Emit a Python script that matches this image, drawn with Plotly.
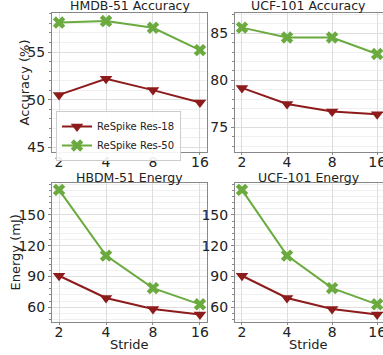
import plotly.graph_objects as go
import math

strides = [2, 4, 8, 16]
hmdb_acc_r18 = [50.5, 52.2, 51.0, 49.7]
hmdb_acc_r50 = [58.1, 58.25, 57.55, 55.2]
ucf_acc_r18 = [79.2, 77.5, 76.7, 76.4]
ucf_acc_r50 = [85.6, 84.55, 84.55, 82.8]
hmdb_energy_r18 = [90.7, 69.1, 58.3, 53.1]
hmdb_energy_r50 = [174.3, 110.3, 78.7, 62.9]
ucf_energy_r18 = [90.7, 69.1, 58.3, 53.1]
ucf_energy_r50 = [174.3, 110.3, 78.7, 62.9]
titles = ["HMDB-51 Accuracy", "UCF-101 Accuracy", "HBDM-51 Energy", "UCF-101 Energy"]
names = ["ReSpike Res-18", "ReSpike Res-50"]

RED = "#8E1B1B"
GREEN = "#6AAA3F"
W, H = 383, 355

def px2paper_x(px):
    return min(1.0, px / W)

def px2paper_y(py):
    return 1 - py / H

xdom = [[px2paper_x(52), px2paper_x(207)], [px2paper_x(235), px2paper_x(383)]]
ydom = [[px2paper_y(152), px2paper_y(13)], [px2paper_y(322), px2paper_y(183)]]
title_y = [6, 177]

fig = go.Figure()

panels = [
    (hmdb_acc_r18, hmdb_acc_r50, 0, 0),
    (ucf_acc_r18, ucf_acc_r50, 1, 0),
    (hmdb_energy_r18, hmdb_energy_r50, 0, 1),
    (ucf_energy_r18, ucf_energy_r50, 1, 1),
]
yranges = [[44.5, 59.1], [72.4, 87.15], [45.7, 181], [45.7, 181]]
ytickvals = [[45, 50, 55], [75, 80, 85], [60, 90, 120, 150], [60, 90, 120, 150]]
minor_dt = [1, 1, 6, 6]

l2 = math.log10(2)
xranges = [[l2 - 0.15 * l2, 4 * l2 + 0.15 * l2], [l2 - 0.155 * l2, 4 * l2 + 0.13 * l2]]

for i, (r18, r50, col, row) in enumerate(panels):
    ax = "" if i == 0 else str(i + 1)
    fig.add_trace(go.Scatter(x=strides, y=r18, mode="lines+markers", name=names[0],
                             line=dict(color=RED, width=2),
                             marker=dict(symbol="triangle-down", size=11, color=RED),
                             xaxis="x" + ax, yaxis="y" + ax, showlegend=(i == 0)))
    fig.add_trace(go.Scatter(x=strides, y=r50, mode="lines+markers", name=names[1],
                             line=dict(color=GREEN, width=2),
                             marker=dict(symbol="x", size=11, color=GREEN),
                             xaxis="x" + ax, yaxis="y" + ax, showlegend=(i == 0)))
    common = dict(showline=True, linecolor="#888888", linewidth=1, mirror=True,
                  gridcolor="#dddddd", gridwidth=1, zeroline=False, automargin=False,
                  ticklabeloverflow="allow",
                  tickfont=dict(family="DejaVu Sans", size=14, color="#222222"),
                  ticks="outside", tickcolor="#888888")
    fig.layout["xaxis" + ax] = dict(domain=xdom[col], anchor="y" + ax, type="log",
                                    range=xranges[col], tickvals=strides, ticklen=2,
                                    ticklabelstandoff=-5,
                                    ticktext=[str(s) for s in strides], **common)
    fig.layout["yaxis" + ax] = dict(domain=ydom[row], anchor="x" + ax, range=yranges[i],
                                    tickvals=ytickvals[i], ticklen=3,
                                    minor=dict(dtick=minor_dt[i], showgrid=True, gridcolor="#f0f0f0",
                                               ticks="outside", ticklen=2, tickcolor="#888888"),
                                    **common)
    fig.add_annotation(text=titles[i], xref="paper", yref="paper",
                       x=sum(xdom[col]) / 2, y=px2paper_y(title_y[row]),
                       xanchor="center", yanchor="middle", showarrow=False,
                       font=dict(family="DejaVu Sans", size=12.5, color="#222222"))

fig.add_annotation(text="Accuracy (%)", xref="paper", yref="paper", x=px2paper_x(24),
                   y=sum(ydom[0]) / 2, textangle=-90, showarrow=False,
                   xanchor="center", yanchor="middle",
                   font=dict(family="DejaVu Sans", size=13, color="#222222"))
fig.add_annotation(text="Energy (mJ)", xref="paper", yref="paper", x=px2paper_x(15),
                   y=sum(ydom[1]) / 2, textangle=-90, showarrow=False,
                   xanchor="center", yanchor="middle",
                   font=dict(family="DejaVu Sans", size=13, color="#222222"))
for col in range(2):
    fig.add_annotation(text="Stride", xref="paper", yref="paper", x=sum(xdom[col]) / 2,
                       y=px2paper_y(344), xanchor="center", yanchor="middle", showarrow=False,
                       font=dict(family="DejaVu Sans", size=13, color="#222222"))

fig.update_layout(width=W, height=H, margin=dict(l=0, r=0, t=0, b=0, autoexpand=False),
                  template="none",
                  plot_bgcolor="white", paper_bgcolor="white",
                  legend=dict(x=px2paper_x(56), y=px2paper_y(111), xanchor="left", yanchor="top",
                              bgcolor="rgba(255,255,255,0.9)", bordercolor="#cccccc", borderwidth=1,
                              font=dict(family="DejaVu Sans", size=10, color="#222222"),
                              tracegroupgap=0, itemwidth=30))

fig.write_html("out.html", config={"displayModeBar": False},
               post_script="document.body.style.margin='0px';document.body.style.overflow='hidden';")
